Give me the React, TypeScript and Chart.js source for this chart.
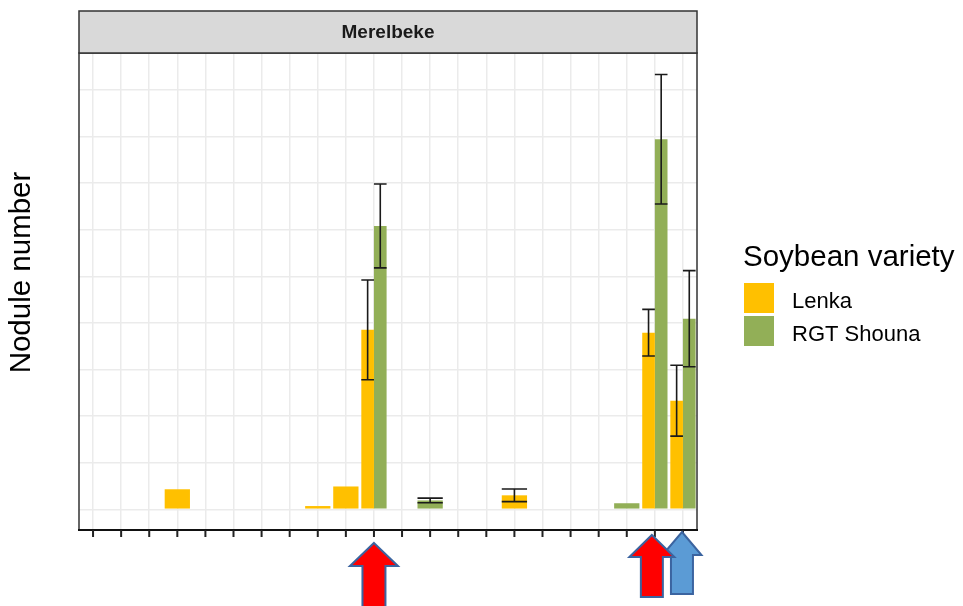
import React, { useEffect, useRef } from "react";
import { Chart, registerables } from "chart.js";

Chart.register(...registerables);

// ---- data ----
const categories = [
  "1", "2", "3", "4", "5", "6", "7", "8", "9", "10", "11",
  "12", "13", "14", "15", "16", "17", "18", "19", "20", "21", "22",
];
const lenkaValues = [
  null, null, null, 4.3, null, null, null, null, 0.7, 4.9, 38.5,
  null, null, null, null, 3.0, null, null, null, null, 37.9, 23.3,
];
const lenkaErrors = [
  null, null, null, null, null, null, null, null, null, null, 10.7,
  null, null, null, null, 1.35, null, null, null, null, 5.0, 7.6,
];
const shounaValues = [
  null, null, null, null, null, null, null, null, null, null, 60.8,
  null, 1.9, null, null, null, null, null, null, 1.3, 79.4, 40.9,
];
const shounaErrors = [
  null, null, null, null, null, null, null, null, null, null, 9.0,
  null, 0.5, null, null, null, null, null, null, null, 13.9, 10.3,
];
const seriesNames = ["Lenka", "RGT Shouna"];
const seriesColors = ["#ffc000", "#92af57"];
const facetLabel = "Merelbeke";
const yTitle = "Nodule number";
const legendTitle = "Soybean variety";
const arrowCategoryIndex = [21, 20, 10];
const arrowFill = ["#5b9bd5", "#ff0000", "#ff0000"];

const FONT = '"Liberation Sans", Arial, sans-serif';

const decorPlugin = {
  id: "decor",
  beforeDraw(chart: any) {
    const ctx = chart.ctx;
    ctx.save();
    ctx.fillStyle = "#ffffff";
    ctx.fillRect(0, 0, chart.width, chart.height);
    ctx.restore();
  },
  afterDatasetsDraw(chart: any) {
    const ctx = chart.ctx;
    const yScale = chart.scales.y;
    const errs = [lenkaErrors, shounaErrors];
    ctx.save();
    ctx.strokeStyle = "#1a1a1a";
    ctx.lineWidth = 1.6;
    chart.data.datasets.forEach((ds: any, di: number) => {
      const meta = chart.getDatasetMeta(di);
      ds.data.forEach((v: number | null, i: number) => {
        const e = errs[di][i];
        if (v == null || e == null) return;
        const bar = meta.data[i];
        if (!bar) return;
        const x = bar.x;
        const hw = bar.width / 2;
        const yt = yScale.getPixelForValue(v + e);
        const yb = yScale.getPixelForValue(v - e);
        ctx.beginPath();
        ctx.moveTo(x, yt);
        ctx.lineTo(x, yb);
        ctx.moveTo(x - hw, yt);
        ctx.lineTo(x + hw, yt);
        ctx.moveTo(x - hw, yb);
        ctx.lineTo(x + hw, yb);
        ctx.stroke();
      });
    });
    ctx.restore();
  },
  afterDraw(chart: any) {
    const ctx = chart.ctx;
    const a = chart.chartArea;
    const xScale = chart.scales.x;
    ctx.save();

    // panel border
    ctx.strokeStyle = "#333333";
    ctx.lineWidth = 1.5;
    ctx.strokeRect(a.left, a.top, a.right - a.left, a.bottom - a.top);

    // strip
    const stripH = 42;
    ctx.fillStyle = "#d9d9d9";
    ctx.fillRect(a.left, a.top - stripH, a.right - a.left, stripH);
    ctx.strokeStyle = "#333333";
    ctx.lineWidth = 1.5;
    ctx.strokeRect(a.left, a.top - stripH, a.right - a.left, stripH);
    ctx.fillStyle = "#1a1a1a";
    ctx.font = `bold 19px ${FONT}`;
    ctx.textAlign = "center";
    ctx.textBaseline = "middle";
    ctx.fillText(facetLabel, (a.left + a.right) / 2, a.top - stripH / 2 + 1);

    // x axis line + ticks
    ctx.strokeStyle = "#111111";
    ctx.lineWidth = 2;
    ctx.beginPath();
    ctx.moveTo(a.left - 1, a.bottom);
    ctx.lineTo(a.right + 1, a.bottom);
    ctx.stroke();
    ctx.strokeStyle = "#222222";
    ctx.lineWidth = 2;
    ctx.beginPath();
    for (let i = 0; i < categories.length; i++) {
      const x = xScale.getPixelForValue(i);
      ctx.moveTo(x, a.bottom);
      ctx.lineTo(x, a.bottom + 7);
    }
    ctx.stroke();

    // y title
    ctx.save();
    ctx.translate(22, (a.top + a.bottom) / 2 - 19);
    ctx.rotate(-Math.PI / 2);
    ctx.fillStyle = "#000000";
    ctx.font = `29.5px ${FONT}`;
    ctx.textAlign = "center";
    ctx.textBaseline = "middle";
    ctx.fillText(yTitle, 0, 0);
    ctx.restore();

    // legend
    const lx = a.right + 47;
    ctx.fillStyle = "#000000";
    ctx.font = `29.5px ${FONT}`;
    ctx.textAlign = "left";
    ctx.textBaseline = "alphabetic";
    ctx.fillText(legendTitle, lx - 1, 266);
    ctx.font = `22px ${FONT}`;
    seriesNames.forEach((name, k) => {
      const top = 283 + k * 33;
      ctx.fillStyle = seriesColors[k];
      ctx.fillRect(lx, top, 30, 30);
      ctx.fillStyle = "#000000";
      ctx.fillText(name, lx + 48, top + 25);
    });

    // arrows
    const arrows = [
      { dx: -1, tip: 2, headHW: 19.5, headH: 23, shaftHW: 11, bottom: 64 },
      { dx: -3, tip: 5, headHW: 22.5, headH: 22, shaftHW: 11, bottom: 67 },
      { dx: 0, tip: 13, headHW: 24, headH: 23, shaftHW: 11.5, bottom: 90 },
    ];
    arrows.forEach((ar, k) => {
      const cx = xScale.getPixelForValue(arrowCategoryIndex[k]) + ar.dx;
      const yTip = a.bottom + ar.tip;
      const yHead = yTip + ar.headH;
      const yBot = a.bottom + ar.bottom;
      ctx.beginPath();
      ctx.moveTo(cx, yTip);
      ctx.lineTo(cx + ar.headHW, yHead);
      ctx.lineTo(cx + ar.shaftHW, yHead);
      ctx.lineTo(cx + ar.shaftHW, yBot);
      ctx.lineTo(cx - ar.shaftHW, yBot);
      ctx.lineTo(cx - ar.shaftHW, yHead);
      ctx.lineTo(cx - ar.headHW, yHead);
      ctx.closePath();
      ctx.fillStyle = arrowFill[k];
      ctx.fill();
      ctx.strokeStyle = "#3b64a0";
      ctx.lineWidth = 2;
      ctx.lineJoin = "miter";
      ctx.stroke();
    });

    ctx.restore();
  },
};

export default function App() {
  const ref = useRef<HTMLCanvasElement | null>(null);
  useEffect(() => {
    if (!ref.current) return;
    const chart = new Chart(ref.current, {
      type: "bar",
      data: {
        labels: categories,
        datasets: [
          {
            label: seriesNames[0],
            data: lenkaValues as any,
            backgroundColor: seriesColors[0],
            borderWidth: 0,
            skipNull: true,
            categoryPercentage: 0.9,
            barPercentage: 1.0,
          } as any,
          {
            label: seriesNames[1],
            data: shounaValues as any,
            backgroundColor: seriesColors[1],
            borderWidth: 0,
            skipNull: true,
            categoryPercentage: 0.9,
            barPercentage: 1.0,
          } as any,
        ],
      },
      options: {
        responsive: false,
        animation: false,
        devicePixelRatio: 1,
        layout: { padding: { left: 79, right: 266, top: 53, bottom: 76 } },
        plugins: {
          legend: { display: false },
          tooltip: { enabled: false },
          title: { display: false },
        },
        scales: {
          x: {
            type: "category",
            offset: true,
            grid: { offset: false, color: "#ebebeb", lineWidth: 1.5, drawTicks: false },
            ticks: { display: false },
            border: { display: false },
            afterFit: (s: any) => {
              s.height = 0;
            },
          },
          y: {
            min: -4.44,
            max: 97.9,
            grid: { color: "#ebebeb", lineWidth: 1.5, drawTicks: false },
            ticks: { display: false, stepSize: 10, includeBounds: false },
            border: { display: false },
            afterFit: (s: any) => {
              s.width = 0;
            },
          },
        },
      } as any,
      plugins: [decorPlugin],
    });
    return () => chart.destroy();
  }, []);
  return (
    <div style={{ position: "fixed", left: 0, top: 0, width: 963, height: 606 }}>
      <canvas ref={ref} width={963} height={606} style={{ display: "block" }} />
    </div>
  );
}
